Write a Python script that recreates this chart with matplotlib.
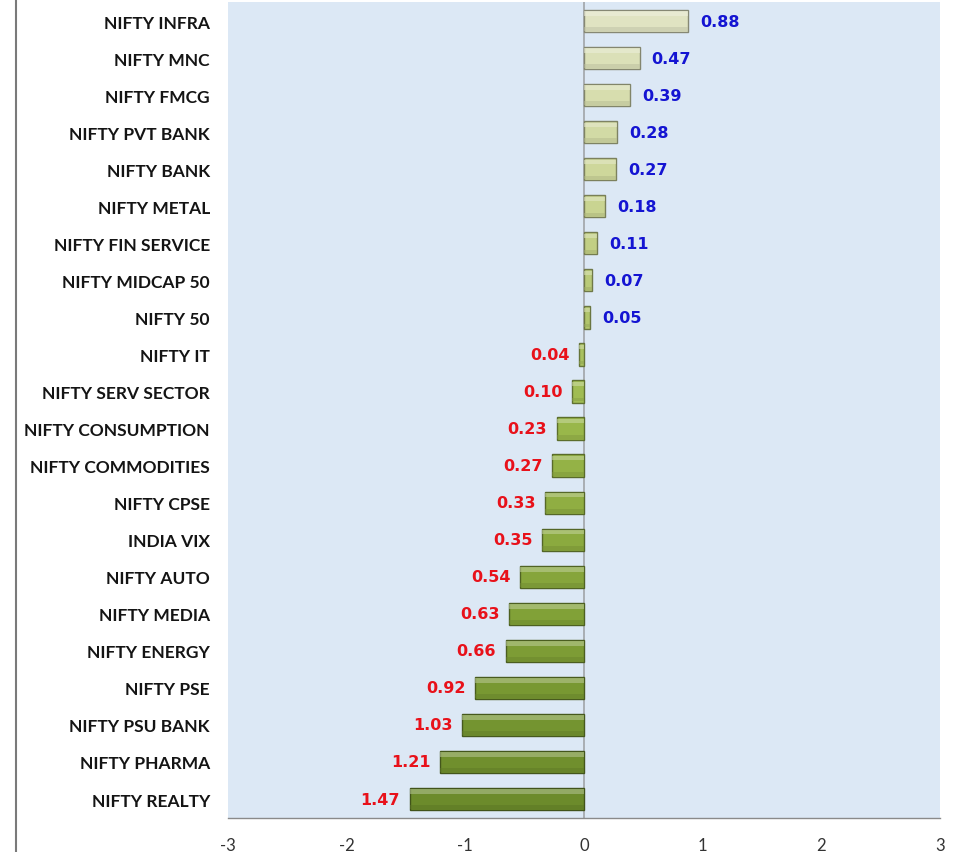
import numpy as np
import matplotlib.pyplot as plt
from matplotlib.colors import to_rgb, LinearSegmentedColormap
from matplotlib.lines import Line2D

categories = [
    "NIFTY INFRA", "NIFTY MNC", "NIFTY FMCG", "NIFTY PVT BANK", "NIFTY BANK",
    "NIFTY METAL", "NIFTY FIN SERVICE", "NIFTY MIDCAP 50", "NIFTY 50", "NIFTY IT",
    "NIFTY SERV SECTOR", "NIFTY CONSUMPTION", "NIFTY COMMODITIES", "NIFTY CPSE",
    "INDIA VIX", "NIFTY AUTO", "NIFTY MEDIA", "NIFTY ENERGY", "NIFTY PSE",
    "NIFTY PSU BANK", "NIFTY PHARMA", "NIFTY REALTY",
]
changes = [
    0.88, 0.47, 0.39, 0.28, 0.27, 0.18, 0.11, 0.07, 0.05, -0.04, -0.10,
    -0.23, -0.27, -0.33, -0.35, -0.54, -0.63, -0.66, -0.92, -1.03, -1.21, -1.47,
]
xticks = [-3, -2, -1, 0, 1, 2, 3]

BG = "#dce8f5"
cmap = LinearSegmentedColormap.from_list(
    "bars", ["#e0e3c2", "#c8d38e", "#9cb94c", "#82a238", "#6c8b2b"])

fig = plt.figure(figsize=(9.65, 8.53), dpi=100)
ax = fig.add_axes([0.2363, 0.0404, 0.7378, 0.9555])
ax.set_facecolor(BG)

n = len(categories)
y = np.arange(n)
for i, (cat, val) in enumerate(zip(categories, changes)):
    c = np.array(to_rgb(cmap(i / (n - 1))))
    edge = c * 0.6
    light = np.clip(c + (1 - c) * 0.5, 0, 1)
    dark = c * 0.85
    ax.barh(i, val, height=0.6, color=c, edgecolor=edge, linewidth=1.0, zorder=3)
    # bevel: light strip near the top, darker strip near the bottom
    ax.barh(i - 0.2, val, height=0.12, color=light, alpha=0.55,
            linewidth=0, zorder=4)
    ax.barh(i + 0.22, val, height=0.1, color=dark, alpha=0.5,
            linewidth=0, zorder=4)
    if val >= 0:
        ax.text(val + 0.1, i, f"{abs(val):.2f}", color="#1414d2",
                ha="left", va="center", fontsize=11.5, fontweight="bold",
                family="DejaVu Sans", zorder=5)
    else:
        ax.text(val - 0.08, i, f"{abs(val):.2f}", color="#e8111a",
                ha="right", va="center", fontsize=11.5, fontweight="bold",
                family="DejaVu Sans", zorder=5)

ax.axvline(0, color="#a0a4a8", linewidth=1.2, zorder=2)

ax.set_xlim(-3, 3)
ax.set_ylim(n - 0.5, -0.5)
ax.set_yticks(y)
ax.set_yticklabels(categories, fontsize=12.5, fontweight="bold",
                   family="Lato", color="#141414")
ax.set_xticks(xticks)
ax.set_xticklabels([str(t) for t in xticks], fontsize=12, family="Lato",
                   color="#333333")
ax.tick_params(axis="y", length=0, pad=13)
ax.tick_params(axis="x", length=0, pad=14)

for s in ["top", "right", "left"]:
    ax.spines[s].set_visible(False)
ax.spines["bottom"].set_color("#8a8a8a")
ax.spines["bottom"].set_linewidth(1.0)

fig.add_artist(Line2D([0.0166, 0.0166], [0, 1], transform=fig.transFigure,
                      color="#7a7a7a", linewidth=1.5))

fig.savefig("out.png", dpi=100)
